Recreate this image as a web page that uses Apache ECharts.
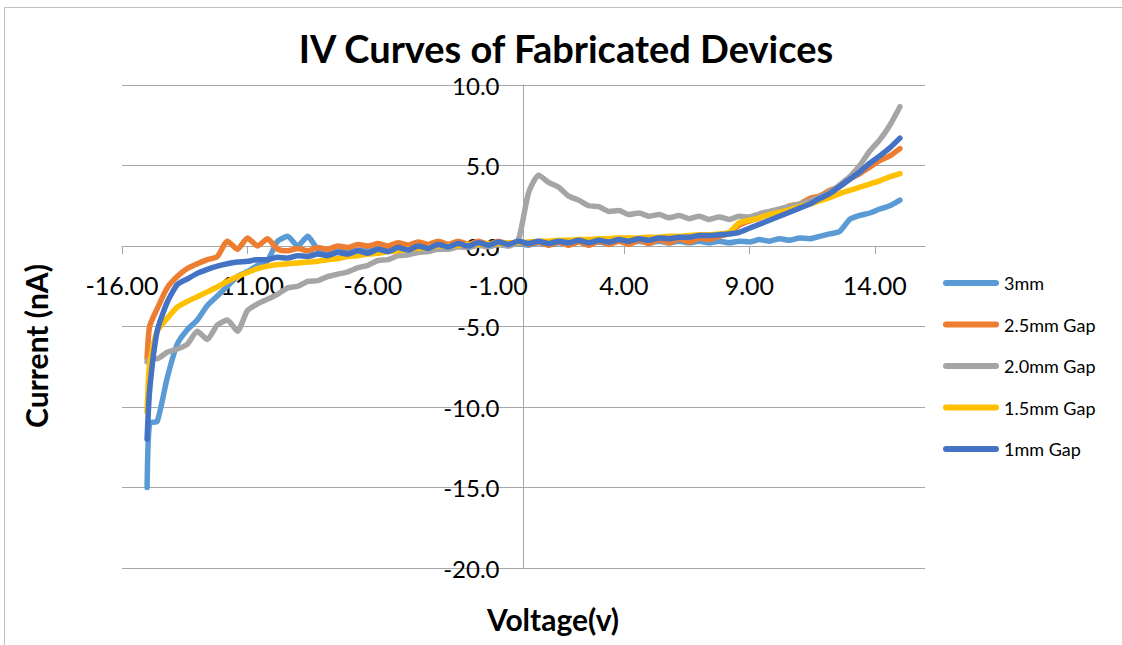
<!DOCTYPE html>
<html>
<head>
<meta charset="utf-8">
<title>IV Curves of Fabricated Devices</title>
<script src="https://cdn.jsdelivr.net/npm/echarts@6/dist/echarts.min.js"></script>
<style>
  html, body { margin: 0; padding: 0; background: #ffffff; }
  #chart { width: 1122px; height: 645px; }
</style>
</head>
<body>
<div id="chart"></div>
<script>
// Sweep voltage (V), shared by every device
const voltage = [
  -15, -14.9, -14.6, -14.2, -13.8, -13.4, -13.0, -12.6, -12.2, -11.8,
  -11.4, -11.0, -10.6, -10.2, -9.8, -9.4, -9.0, -8.6, -8.2, -7.8,
  -7.4, -7.0, -6.6, -6.2, -5.8, -5.4, -5.0, -4.6, -4.2, -3.8,
  -3.4, -3.0, -2.6, -2.2, -1.8, -1.4, -1.0, -0.6, -0.2, 0.2,
  0.6, 1.0, 1.4, 1.8, 2.2, 2.6, 3.0, 3.4, 3.8, 4.2,
  4.6, 5.0, 5.4, 5.8, 6.2, 6.6, 7.0, 7.4, 7.8, 8.2,
  8.6, 9.0, 9.4, 9.8, 10.2, 10.6, 11.0, 11.4, 11.8, 12.2,
  12.6, 13.0, 13.4, 13.8, 14.2, 14.6, 15.0
];

// Measured current (nA) for each electrode gap
const current3mm = [
  -15.0, -11.0, -10.9, -8.2, -6.1, -5.2, -4.6, -3.7, -3.1, -2.5,
  -1.9, -1.6, -1.2, -0.9, 0.3, 0.6, 0.0, 0.6, -0.2, -0.35,
  -0.3, -0.4, -0.25, -0.3, -0.2, -0.25, -0.1, -0.2, -0.05, -0.15,
  0.0, -0.1, 0.05, -0.05, 0.1, 0.0, 0.1, 0.05, 0.15, 0.05,
  0.2, 0.1, 0.2, 0.1, 0.25, 0.15, 0.25, 0.15, 0.3, 0.2,
  0.3, 0.2, 0.3, 0.2, 0.3, 0.2, 0.3, 0.2, 0.3, 0.2,
  0.3, 0.25, 0.4, 0.3, 0.45, 0.35, 0.5, 0.45, 0.6, 0.75,
  0.9, 1.65, 1.9, 2.05, 2.3, 2.5, 2.85
];
const current2_5mm = [
  -7.0, -5.0, -3.9, -2.6, -1.9, -1.4, -1.1, -0.85, -0.65, 0.3,
  -0.2, 0.5, 0.0, 0.45, -0.2, -0.3, -0.15, -0.3, -0.1, -0.2,
  0.0, -0.1, 0.1, 0.0, 0.15, 0.0, 0.2, 0.05, 0.25, 0.1,
  0.3, 0.1, 0.3, 0.1, 0.3, 0.1, 0.3, 0.1, 0.3, 0.1,
  0.25, 0.05, 0.25, 0.05, 0.25, 0.05, 0.3, 0.1, 0.3, 0.1,
  0.35, 0.15, 0.4, 0.2, 0.45, 0.25, 0.5, 0.4, 0.6, 0.8,
  1.3, 1.55, 1.75, 2.05, 2.2, 2.5, 2.6, 2.95, 3.1, 3.45,
  3.7, 4.15, 4.5, 4.9, 5.3, 5.6, 6.05
];
const current2_0mm = [
  -7.2, -7.0, -7.0, -6.6, -6.4, -6.1, -5.3, -5.8, -4.9, -4.6,
  -5.3, -4.0, -3.6, -3.3, -3.0, -2.6, -2.5, -2.2, -2.15, -1.9,
  -1.75, -1.6, -1.35, -1.2, -0.9, -0.85, -0.6, -0.55, -0.4, -0.35,
  -0.2, -0.2, -0.05, -0.1, 0.05, -0.05, 0.1, 0.0, 0.4, 3.3,
  4.4, 3.95, 3.65, 3.1, 2.85, 2.5, 2.45, 2.15, 2.2, 1.95,
  2.05, 1.85, 1.95, 1.75, 1.9, 1.7, 1.85, 1.65, 1.8, 1.65,
  1.85, 1.8, 2.0, 2.15, 2.3, 2.45, 2.6, 2.8, 3.05, 3.35,
  3.8, 4.3, 5.0, 5.9, 6.6, 7.5, 8.65
];
const current1_5mm = [
  -10.3, -7.3, -5.3, -4.5, -3.8, -3.45, -3.15, -2.85, -2.55, -2.2,
  -1.9, -1.65, -1.4, -1.25, -1.15, -1.1, -1.05, -1.0, -0.95, -0.85,
  -0.78, -0.65, -0.6, -0.5, -0.45, -0.35, -0.3, -0.2, -0.15, -0.1,
  0.0, 0.0, 0.05, 0.1, 0.1, 0.15, 0.15, 0.2, 0.2, 0.25,
  0.3, 0.3, 0.35, 0.35, 0.4, 0.4, 0.45, 0.45, 0.5, 0.5,
  0.5, 0.55, 0.55, 0.6, 0.6, 0.65, 0.7, 0.7, 0.75, 0.85,
  1.45, 1.6, 1.75, 1.95, 2.1, 2.25, 2.45, 2.6, 2.8, 3.0,
  3.25, 3.45, 3.65, 3.85, 4.05, 4.3, 4.5
];
const current1mm = [
  -12.0, -9.0, -5.3, -3.5, -2.4, -2.05, -1.7, -1.45, -1.25, -1.1,
  -1.0, -0.95, -0.85, -0.85, -0.7, -0.75, -0.6, -0.65, -0.5, -0.6,
  -0.4, -0.5, -0.3, -0.45, -0.2, -0.35, -0.1, -0.25, 0.0, -0.15,
  0.1, -0.05, 0.15, 0.0, 0.2, 0.05, 0.25, 0.1, 0.3, 0.15,
  0.3, 0.15, 0.3, 0.2, 0.35, 0.2, 0.35, 0.25, 0.4, 0.3,
  0.45, 0.35, 0.5, 0.45, 0.55, 0.55, 0.65, 0.65, 0.7, 0.75,
  0.85, 1.1, 1.35, 1.6, 1.85, 2.1, 2.35, 2.6, 2.95, 3.25,
  3.7, 4.15, 4.6, 5.15, 5.6, 6.1, 6.7
];

const seriesNames = ['3mm', '2.5mm Gap', '2.0mm Gap', '1.5mm Gap', '1mm Gap'];
const seriesValues = [current3mm, current2_5mm, current2_0mm, current1_5mm, current1mm];
const seriesColors = ['#5B9BD5', '#ED7D31', '#A5A5A5', '#FFC000', '#4472C4'];

const FONT = 'Lato, "Liberation Sans", sans-serif';
const GRID = '#a6a6a6';

// Plot area geometry: x from -16 to 16, y from -20 to 10
const PLOT = { left: 122, top: 85, width: 803, height: 483 };
const X_RANGE = [-16, 16];
const Y_RANGE = [-20, 10];
// The axes cross at the origin, so shift each axis from its grid edge onto zero
const zeroY = PLOT.top + PLOT.height * (Y_RANGE[1] / (Y_RANGE[1] - Y_RANGE[0]));
const zeroX = PLOT.left + PLOT.width * (-X_RANGE[0] / (X_RANGE[1] - X_RANGE[0]));
const xAxisOffset = -(PLOT.top + PLOT.height - zeroY);
const yAxisOffset = -(zeroX - PLOT.left);

// Capsule shape used as the legend key
const LEGEND_KEY = 'path://M3,0 L53,0 A3,3 0 0 1 53,6 L3,6 A3,3 0 0 1 3,0 Z';

const chart = echarts.init(document.getElementById('chart'), null, { renderer: 'svg' });

chart.setOption({
  backgroundColor: '#ffffff',
  animation: false,
  grid: Object.assign({ containLabel: false }, PLOT),
  graphic: [
    {
      type: 'rect',
      shape: { x: 4.5, y: 7.5, width: 1140, height: 660 },
      style: { fill: 'none', stroke: '#bfbfbf', lineWidth: 1 },
      silent: true, z: -10
    },
    {
      type: 'text', x: 566, y: 48,
      style: { text: 'IV Curves of Fabricated Devices', font: 'bold 38px ' + FONT,
               fill: '#000', align: 'center', verticalAlign: 'middle' }
    },
    {
      type: 'text', x: 553, y: 619,
      style: { text: 'Voltage(v)', font: 'bold 30px ' + FONT,
               fill: '#000', align: 'center', verticalAlign: 'middle' }
    },
    {
      type: 'text', x: 36, y: 346, rotation: Math.PI / 2,
      style: { text: 'Current (nA)', font: 'bold 30px ' + FONT,
               fill: '#000', align: 'center', verticalAlign: 'middle' }
    }
  ],
  legend: {
    orient: 'vertical',
    left: 938,
    top: 268,
    itemWidth: 56,
    itemHeight: 6,
    itemGap: 21.5,
    data: seriesNames.map(n => ({ name: n, icon: LEGEND_KEY })),
    textStyle: { fontFamily: FONT, fontSize: 18, lineHeight: 20, color: '#000' }
  },
  xAxis: {
    type: 'value',
    min: X_RANGE[0],
    max: X_RANGE[1],
    interval: 5,
    position: 'bottom',
    offset: xAxisOffset,
    axisLine: { onZero: false, lineStyle: { color: GRID, width: 1 } },
    axisTick: { show: true, length: 8, lineStyle: { color: GRID } },
    splitLine: { show: false },
    axisLabel: {
      margin: 26,
      showMaxLabel: false,
      fontFamily: FONT, fontSize: 25, color: '#000',
      formatter: v => v.toFixed(2)
    }
  },
  yAxis: {
    type: 'value',
    min: Y_RANGE[0],
    max: Y_RANGE[1],
    interval: 5,
    position: 'left',
    offset: yAxisOffset,
    axisLine: { show: true, onZero: false, lineStyle: { color: GRID, width: 1 } },
    axisTick: { show: false },
    splitLine: { show: true, lineStyle: { color: GRID, width: 1 } },
    axisLabel: {
      margin: 24,
      fontFamily: FONT, fontSize: 24, color: '#000',
      formatter: v => v.toFixed(1)
    }
  },
  series: seriesNames.map((name, k) => ({
    name: name,
    type: 'line',
    data: voltage.map((v, i) => [v, seriesValues[k][i]]),
    showSymbol: false,
    symbol: 'none',
    smooth: 0.2,
    color: seriesColors[k],
    lineStyle: { width: 5.5, color: seriesColors[k], cap: 'round', join: 'round' },
    z: 2 + k
  }))
});
</script>
</body>
</html>
